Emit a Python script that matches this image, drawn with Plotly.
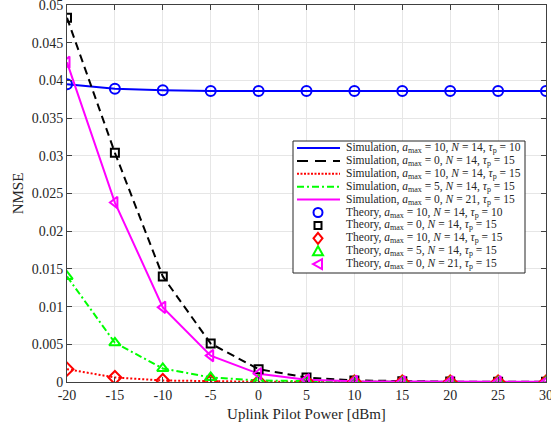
import plotly.graph_objects as go

power_dbm = [-20, -15, -10, -5, 0, 5, 10, 15, 20, 25, 30]

nmse_a10_n14_t10 = [0.0395, 0.0389, 0.0387, 0.0386, 0.0386, 0.0386, 0.0386, 0.0386, 0.0386, 0.0386, 0.0386]
nmse_a0_n14_t15 = [0.0483, 0.0304, 0.0140, 0.0051, 0.0017, 0.0006, 0.0002, 0.0001, 0.00005, 0.00004, 0.00004]
nmse_a10_n14_t15 = [0.0017, 0.0006, 0.0002, 0.0001, 0.00004, 0.00002, 0.00001, 0.00001, 0.00001, 0.00001, 0.00001]
nmse_a5_n14_t15 = [0.0140, 0.0052, 0.0018, 0.0006, 0.0002, 0.0001, 0.00004, 0.00002, 0.00001, 0.00001, 0.00001]
nmse_a0_n21_t15 = [0.0424, 0.0238, 0.0099, 0.0035, 0.0011, 0.0003, 0.0001, 0.00004, 0.00002, 0.00002, 0.00002]

a_max = ["10", "0", "10", "5", "0"]
n_ant = ["14", "14", "14", "14", "21"]
tau_p = ["10", "15", "15", "15", "15"]
series_y = [nmse_a10_n14_t10, nmse_a0_n14_t15, nmse_a10_n14_t15, nmse_a5_n14_t15, nmse_a0_n21_t15]
colors = ["#0000ff", "#000000", "#ff0000", "#00ff00", "#ff00ff"]
dashes = ["solid", "8px,5px", "2px,2px", "7px,3px,2px,3px", "solid"]
legend_dashes = ["solid", "11px,7px", "2px,1.5px", "7px,3px,2px,3px", "solid"]
symbols = ["circle-open", "square-open", "diamond-open", "triangle-up-open", "triangle-left-open"]
msizes = [10, 8, 10, 10, 10]

def label(kind, a, n, t):
    return (f"{kind}, <i>a</i><sub>max</sub> = {a}, <i>N</i> = {n}, "
            f"<i>τ</i><sub>p</sub> = {t}")

fig = go.Figure()
for i in range(5):
    fig.add_trace(go.Scatter(
        x=power_dbm, y=series_y[i], mode="lines",
        line=dict(color=colors[i], width=2, dash=dashes[i]),
        name=label("Simulation", a_max[i], n_ant[i], tau_p[i]), showlegend=False,
    ))
for i in range(5):
    fig.add_trace(go.Scatter(
        x=power_dbm, y=series_y[i], mode="markers",
        marker=dict(symbol=symbols[i], size=msizes[i], color=colors[i],
                    line=dict(color=colors[i], width=2)),
        name=label("Theory", a_max[i], n_ant[i], tau_p[i]), showlegend=False,
    ))

# ---- plot-area geometry (pixels) for a hand-drawn, compact legend ----
W, H = 551, 434
ML, MR, MT, MB = 67, 5, 5, 52
PW, PH = W - ML - MR, H - MT - MB

def px(xp):
    return (xp - ML) / PW

def py(yp):
    return (H - MB - yp) / PH

shapes = []
annotations = []
box_l, box_r, box_t, box_b = 293, 525, 141, 273
shapes.append(dict(type="rect", xref="paper", yref="paper",
                   x0=px(box_l), x1=px(box_r), y0=py(box_b), y1=py(box_t),
                   line=dict(color="#262626", width=1), fillcolor="white", layer="above"))
row0, drow = 148, 12.9
line_x0, line_x1, mark_x, text_x = 297, 340, 318, 344
font_family = "Liberation Serif, Times New Roman, serif"

def marker_shape(sym, cx, cy, c):
    base = dict(xref="paper", yref="paper", xsizemode="pixel", ysizemode="pixel",
                xanchor=px(cx), yanchor=py(cy), line=dict(color=c, width=2), layer="above")
    if sym == "circle-open":
        return dict(type="circle", x0=-4.5, x1=4.5, y0=-4.5, y1=4.5, **base)
    if sym == "square-open":
        return dict(type="rect", x0=-3.5, x1=3.5, y0=-3.5, y1=3.5, **base)
    if sym == "diamond-open":
        return dict(type="path", path="M0,5.5 L4.5,0 L0,-5.5 L-4.5,0 Z", **base)
    if sym == "triangle-up-open":
        return dict(type="path", path="M0,5 L5,-4 L-5,-4 Z", **base)
    return dict(type="path", path="M-5,0 L4,5 L4,-5 Z", **base)

for i in range(5):
    yrow = row0 + i * drow
    shapes.append(dict(type="line", xref="paper", yref="paper",
                       x0=px(line_x0), x1=px(line_x1), y0=py(yrow), y1=py(yrow),
                       line=dict(color=colors[i], width=2, dash=legend_dashes[i]), layer="above"))
    annotations.append(dict(xref="paper", yref="paper", x=px(text_x), y=py(yrow),
                            xanchor="left", yanchor="middle", showarrow=False,
                            text=label("Simulation", a_max[i], n_ant[i], tau_p[i]),
                            font=dict(family=font_family, size=11.5, color="#262626")))
for i in range(5):
    yrow = row0 + (i + 5) * drow
    shapes.append(marker_shape(symbols[i], mark_x, yrow, colors[i]))
    annotations.append(dict(xref="paper", yref="paper", x=px(text_x), y=py(yrow),
                            xanchor="left", yanchor="middle", showarrow=False,
                            text=label("Theory", a_max[i], n_ant[i], tau_p[i]),
                            font=dict(family=font_family, size=11.5, color="#262626")))

axis_common = dict(
    showgrid=True, gridcolor="#e6e6e6", gridwidth=1,
    showline=True, linecolor="#404040", linewidth=1, mirror="ticks",
    ticks="inside", ticklen=5, tickcolor="#404040",
    zeroline=False, ticklabeloverflow="allow", automargin=False,
    tickfont=dict(family=font_family, size=14, color="#262626"),
)

y_ticks = [0, 0.005, 0.01, 0.015, 0.02, 0.025, 0.03, 0.035, 0.04, 0.045, 0.05]
y_tick_text = ["0", "0.005", "0.01", "0.015", "0.02", "0.025", "0.03", "0.035", "0.04", "0.045", "0.05"]

fig.update_layout(
    width=W, height=H,
    margin=dict(l=ML, r=MR, t=MT, b=MB),
    paper_bgcolor="white", plot_bgcolor="white",
    font=dict(family=font_family, color="#262626"),
    xaxis=dict(
        range=[-20, 30], tickvals=power_dbm,
        ticktext=[str(v) for v in power_dbm],
        title=dict(text="Uplink Pilot Power [dBm]", font=dict(size=15, family=font_family, color="#262626"), standoff=6),
        **axis_common,
    ),
    yaxis=dict(
        range=[0, 0.05], tickvals=y_ticks, ticktext=y_tick_text,
        title=dict(text="NMSE", font=dict(size=15, family=font_family, color="#262626"), standoff=4),
        **axis_common,
    ),
    shapes=shapes, annotations=annotations,
    showlegend=False,
)

fig.write_html("out.html")
